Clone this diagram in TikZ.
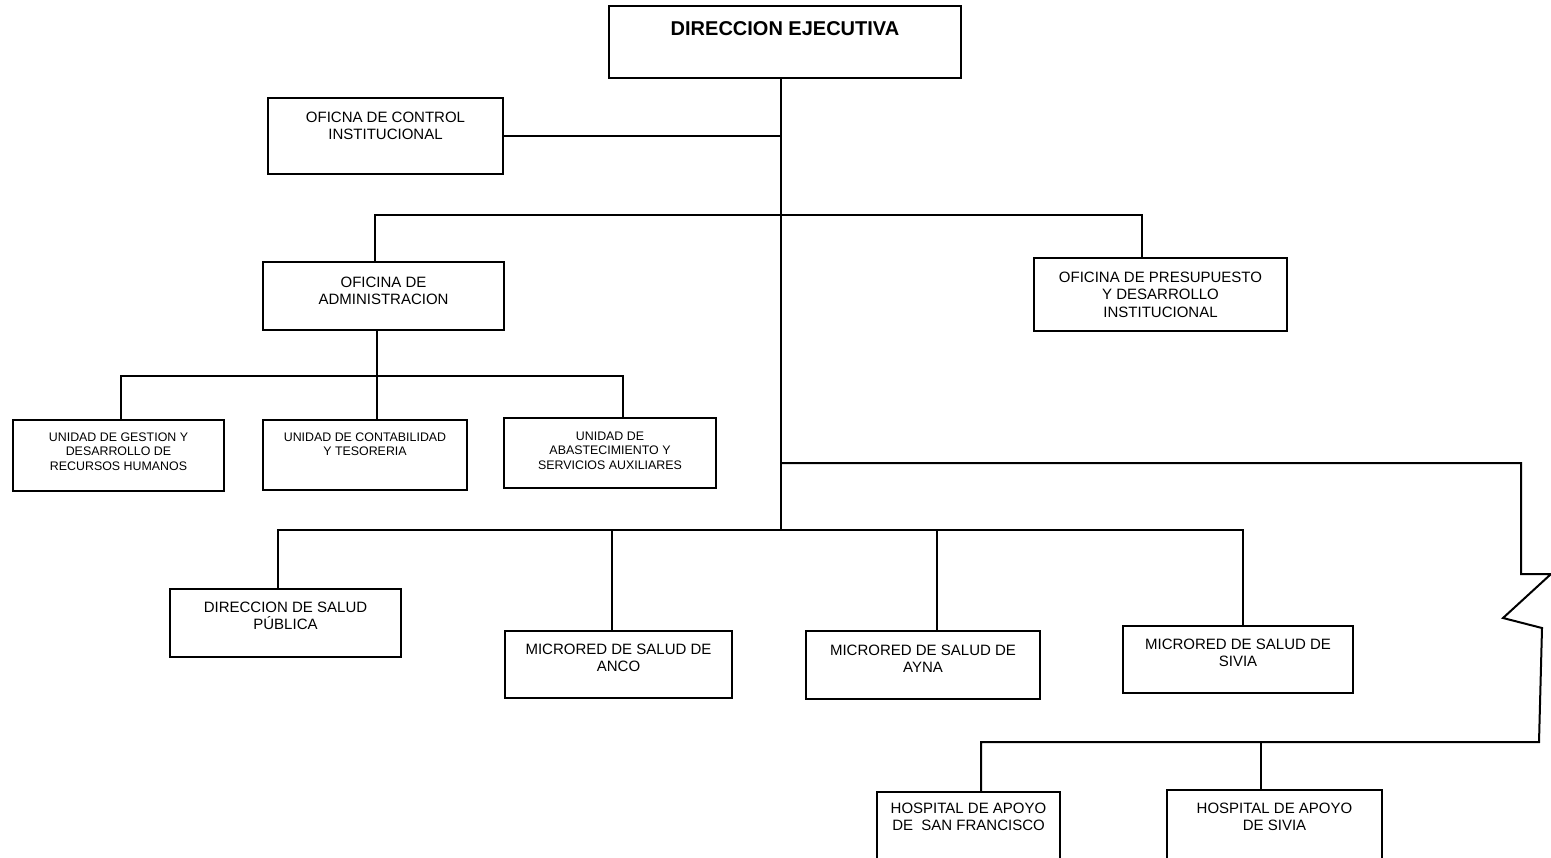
\documentclass[tikz,border=0pt]{standalone}
\usepackage{fontspec}
\setmainfont{Liberation Sans}
\newlength\unitpx
\setlength\unitpx{0.5pt}
\newcommand{\bxt}[4]{\parbox[c][#2\unitpx][t]{#1\unitpx}{\centering\vspace*{#3\unitpx}#4\par}}
\newcommand{\medf}{\fontsize{7.5}{8.8}\selectfont}
\newcommand{\smlf}{\fontsize{6.2}{7.25}\selectfont}
\begin{document}
\begin{tikzpicture}[x=0.5pt,y=-0.5pt,
  ob/.style={draw, line width=1.1pt, inner sep=0pt, fill=white},
  cn/.style={line width=1pt}]
\useasboundingbox (0,0) rectangle (1551,857);
% boxes
\node[ob] (de) at (785,42) {\bxt{352}{72}{16}{\fontsize{10}{12}\selectfont\bfseries DIRECCION EJECUTIVA}};
\node[ob] (ctrl) at (385.5,136) {\bxt{235}{76}{13.6}{\medf OFICNA DE CONTROL\\INSTITUCIONAL}};
\node[ob] (adm) at (383.5,296) {\bxt{241}{68}{14.6}{\medf OFICINA DE\\ADMINISTRACION}};
\node[ob] (ppto) at (1160.5,294.5) {\bxt{253}{73}{13.6}{\medf OFICINA DE PRESUPUESTO\\Y DESARROLLO\\INSTITUCIONAL}};
\node[ob] (ug) at (118.5,455.5) {\bxt{211}{71}{12.5}{\smlf UNIDAD DE GESTION Y\\DESARROLLO DE\\RECURSOS HUMANOS}};
\node[ob] (uc) at (365,455) {\bxt{204}{70}{12.5}{\smlf UNIDAD DE CONTABILIDAD\\Y TESORERIA}};
\node[ob] (ua) at (610,453) {\bxt{212}{70}{13.5}{\smlf UNIDAD DE\\ABASTECIMIENTO Y\\SERVICIOS AUXILIARES}};
\node[ob] (dsp) at (285.5,623) {\bxt{231}{68}{12.6}{\medf DIRECCION DE SALUD\\PÚBLICA}};
\node[ob] (anco) at (618.5,664.5) {\bxt{227}{67}{12.6}{\medf MICRORED DE SALUD DE\\ANCO}};
\node[ob] (ayna) at (923,665) {\bxt{234}{68}{13.6}{\medf MICRORED DE SALUD DE\\AYNA}};
\node[ob] (ms) at (1238,659.5) {\bxt{230}{67}{12.6}{\medf MICRORED DE SALUD DE\\SIVIA}};
\node[ob] (hsf) at (968.5,831) {\bxt{183}{78}{10.6}{\medf HOSPITAL DE APOYO\\DE\ \ SAN FRANCISCO}};
\node[ob] (hsv) at (1274.5,830) {\bxt{215}{80}{12.6}{\medf HOSPITAL DE APOYO\\DE SIVIA}};
% junction coordinates
\coordinate (tb) at (781,530);
\coordinate (b1l) at (375,215);
\coordinate (b1r) at (1142,215);
\coordinate (b2) at (377,376);
\coordinate (u1) at (121,376);
\coordinate (u3) at (623,376);
\coordinate (m1) at (278,530);
\coordinate (m2) at (612,530);
\coordinate (m3) at (937,530);
\coordinate (m4) at (1243,530);
\coordinate (r0) at (781,463);
\coordinate (r1) at (1521,463);
\coordinate (r2) at (1521,574);
\coordinate (r3) at (1551,574);
\coordinate (r4) at (1503,618);
\coordinate (r5) at (1542,628);
\coordinate (r6) at (1539,742);
\coordinate (h1) at (981,742);
\coordinate (h2) at (1261,742);
% connectors
\begin{scope}[cn]
\draw (de.south -| tb) -- (tb);
\draw (ctrl.east) -- (ctrl.east -| tb);
\draw (adm.north -| b1l) -- (b1l) -- (b1r) -- (ppto.north -| b1r);
\draw (adm.south -| b2) -- (b2);
\draw (ug.north -| u1) -- (u1) -- (u3) -- (ua.north -| u3);
\draw (uc.north -| b2) -- (b2);
\draw (dsp.north -| m1) -- (m1) -- (m4) -- (ms.north -| m4);
\draw (anco.north -| m2) -- (m2);
\draw (ayna.north -| m3) -- (m3);
\draw (r0) -- (r1) -- (r2) -- (r3) -- (r4) -- (r5) -- (r6) -- (h1) -- (hsf.north -| h1);
\draw (hsv.north -| h2) -- (h2);
\end{scope}
\end{tikzpicture}
\end{document}
